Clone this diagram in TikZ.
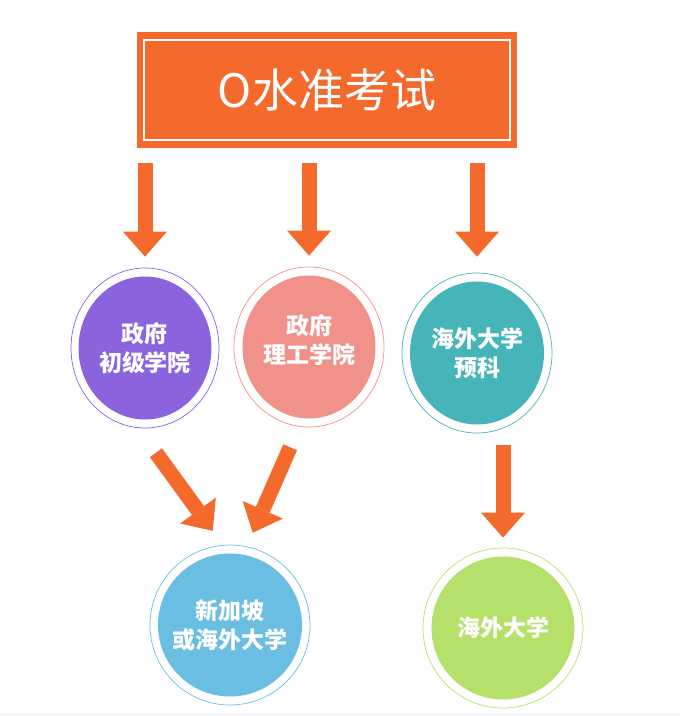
\documentclass[tikz,border=0pt]{standalone}
\usepackage{fontspec}
\newfontfamily\cjk{Noto Sans CJK SC}
\usetikzlibrary{shapes.geometric,arrows.meta}

\definecolor{oj}{RGB}{243,106,44}
\definecolor{pp}{RGB}{139,99,221}
\definecolor{pk}{RGB}{240,146,138}
\definecolor{tl}{RGB}{69,181,185}
\definecolor{bl}{RGB}{106,190,225}
\definecolor{gr}{RGB}{181,225,106}
\definecolor{strip}{RGB}{245,246,250}

\begin{document}
\begin{tikzpicture}[x=1pt, y=-1pt,
    headbox/.style={rectangle, fill=oj, minimum width=380pt, minimum height=116pt, text=white,
        font=\cjk\fontsize{46}{50}\selectfont,
        path picture={\draw[white, line width=2.5pt] ([xshift=7pt,yshift=-8pt]path picture bounding box.north west) rectangle ([xshift=-7pt,yshift=8pt]path picture bounding box.south east);}},
    school/.style n args={3}{ellipse, draw=#1, line width=0.7pt, fill=white, minimum width=#2, minimum height=160pt,
        inner sep=-3pt, align=center, text=white, font=\cjk\bfseries\fontsize{23}{29}\selectfont,
        path picture={\fill[#1] (path picture bounding box.center) ellipse [x radius=#3, y radius=71.5pt];}},
    bigarrow/.style={draw=oj, line width=15pt, -{Triangle[width=44pt, length=25pt, line width=0pt]}}]
    \useasboundingbox (0,0) rectangle (680,716);
    \fill[strip] (0,713) rectangle (680,716);

    % Draw title
    \node[headbox] (exam) at (327,90) {O水准考试};

    % Draw schools
    \node[school={pp}{148pt}{66.5pt}] (jc) at (145,348) {政府\\初级学院};
    \node[school={pk}{150pt}{66.5pt}, text depth=16pt] (poly) at (309,347) {政府\\理工学院};
    \node[school={tl}{150pt}{67pt}] (prep) at (477,353) {海外大学\\预科};
    \node[school={bl}{160pt}{72pt}] (sg) at (230,625) {新加坡\\或海外大学};
    \node[school={gr}{160pt}{71.5pt}] (uni) at (503,628) {海外大学};

    % Draw arrows
    \draw[bigarrow, shorten <=15pt, shorten >=11pt] (exam.south -| jc.north) -- (jc.north);
    \draw[bigarrow, shorten <=15pt, shorten >=11pt] (exam.south -| poly.north) -- (poly.north);
    \draw[bigarrow, shorten <=15pt, shorten >=16pt] (exam.south -| prep.north) -- (prep.north);
    \draw[bigarrow, shorten <=30.6pt, shorten >=17.5pt] (jc.-95) -- (sg.95);
    \draw[bigarrow, shorten <=22.5pt, shorten >=15pt] (poly.-97) -- (sg.78);
    \draw[bigarrow, shorten <=12pt, shorten >=10pt] (prep.south -| uni.north) -- (uni.north);
\end{tikzpicture}
\end{document}
